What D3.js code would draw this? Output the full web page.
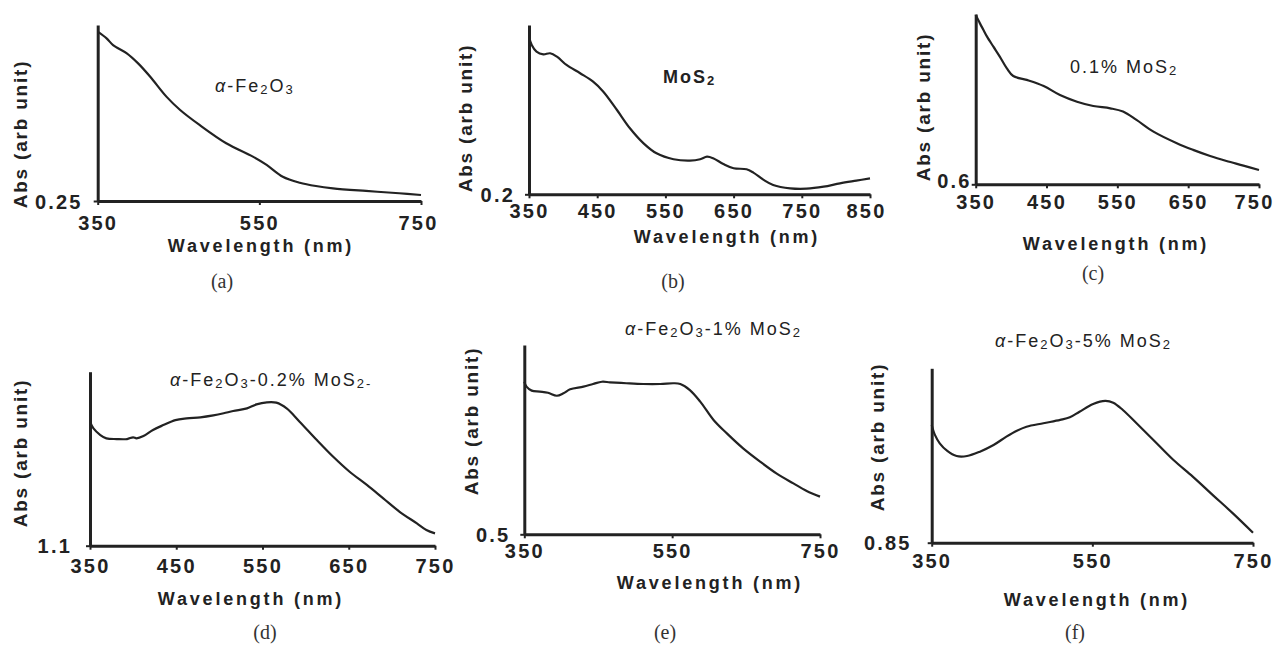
<!DOCTYPE html>
<html>
<head>
<meta charset="utf-8">
<script src="https://cdn.jsdelivr.net/npm/d3@7"></script>
<style>
  body { margin: 0; background: #fff; }
  svg { display: block; }
</style>
</head>
<body>
<svg id="chart" width="1274" height="648"></svg>
<script>

// wavelength (nm) and absorbance (arb unit)
var waveA = [350, 361, 369, 386, 400, 415, 435, 452, 476, 509, 542, 559, 579, 600, 620, 641, 682, 723, 750];
var absA  = [1.212, 1.174, 1.136, 1.089, 1.032, 0.956, 0.843, 0.767, 0.682, 0.578, 0.502, 0.455, 0.388, 0.354, 0.335, 0.322, 0.307, 0.294, 0.284];

var waveB = [350, 354, 361, 371, 381, 391, 405, 425, 444, 459, 479, 498, 518, 537, 562, 586, 601, 611, 620, 635, 650, 669, 679, 694, 708, 733, 757, 782, 806, 830, 850];
var absB  = [1.131, 1.082, 1.043, 1.027, 1.033, 1.013, 0.964, 0.915, 0.865, 0.806, 0.698, 0.590, 0.501, 0.442, 0.407, 0.399, 0.407, 0.422, 0.413, 0.379, 0.354, 0.348, 0.328, 0.285, 0.255, 0.235, 0.233, 0.245, 0.265, 0.281, 0.294];

var waveC = [350, 356, 361, 366, 375, 384, 394, 403, 422, 446, 469, 493, 516, 540, 558, 577, 601, 634, 657, 681, 704, 728, 750];
var absC  = [1.594, 1.545, 1.506, 1.467, 1.408, 1.350, 1.281, 1.236, 1.213, 1.177, 1.124, 1.085, 1.060, 1.046, 1.027, 0.978, 0.909, 0.841, 0.802, 0.766, 0.737, 0.710, 0.684];

var waveD = [350, 354, 362, 369, 381, 393, 400, 404, 412, 423, 435, 449, 462, 478, 493, 505, 516, 532, 543, 555, 566, 578, 593, 613, 632, 651, 671, 690, 709, 729, 740, 750];
var absD  = [1.813, 1.774, 1.736, 1.717, 1.713, 1.713, 1.723, 1.717, 1.730, 1.765, 1.793, 1.822, 1.832, 1.838, 1.849, 1.861, 1.874, 1.889, 1.912, 1.924, 1.922, 1.889, 1.813, 1.707, 1.611, 1.525, 1.449, 1.372, 1.295, 1.228, 1.190, 1.171];

var waveE = [350, 353, 360, 371, 382, 394, 403, 412, 430, 443, 455, 466, 488, 511, 534, 552, 561, 574, 588, 606, 624, 646, 669, 691, 714, 732, 750];
var absE  = [1.306, 1.280, 1.259, 1.254, 1.248, 1.232, 1.245, 1.266, 1.280, 1.294, 1.306, 1.303, 1.298, 1.294, 1.294, 1.298, 1.294, 1.262, 1.201, 1.104, 1.033, 0.954, 0.884, 0.822, 0.769, 0.729, 0.699];

var waveF = [350, 354, 360, 369, 381, 394, 410, 427, 443, 456, 468, 489, 510, 522, 534, 551, 566, 576, 588, 605, 626, 651, 675, 700, 725, 750];
var absF  = [1.525, 1.468, 1.420, 1.378, 1.347, 1.347, 1.372, 1.410, 1.458, 1.492, 1.515, 1.535, 1.554, 1.569, 1.601, 1.645, 1.663, 1.653, 1.611, 1.535, 1.439, 1.324, 1.229, 1.123, 1.018, 0.907];

// tick labels
var ticksA = [350, 550, 750];
var ticksB = [350, 450, 550, 650, 750, 850];
var ticksC = [350, 450, 550, 650, 750];
var ticksD = [350, 450, 550, 650, 750];
var ticksE = [350, 550, 750];
var ticksF = [350, 550, 750];

var yMinA = 0.25, yMinB = 0.2, yMinC = 0.6, yMinD = 1.1, yMinE = 0.5, yMinF = 0.85;

// titles: [text, kind]  i = italic, s = subscript
var titleA = [["α", "i"], ["-Fe", ""], ["2", "s"], ["O", ""], ["3", "s"]];
var titleB = [["MoS", ""], ["2", "s"]];
var titleC = [["0.1% MoS", ""], ["2", "s"]];
var titleD = [["α", "i"], ["-Fe", ""], ["2", "s"], ["O", ""], ["3", "s"], ["-0.2% MoS", ""], ["2", "s"], ["-", "s"]];
var titleE = [["α", "i"], ["-Fe", ""], ["2", "s"], ["O", ""], ["3", "s"], ["-1% MoS", ""], ["2", "s"]];
var titleF = [["α", "i"], ["-Fe", ""], ["2", "s"], ["O", ""], ["3", "s"], ["-5% MoS", ""], ["2", "s"]];

var letters = ["(a)", "(b)", "(c)", "(d)", "(e)", "(f)"];

// layout of each panel (pixels)
var panels = [
  {w: waveA, v: absA, ticks: ticksA, ymin: yMinA, title: titleA, xmax: 750,
   x0: 97.7, x1: 421, yb: 201, yt: 25, ylab: [20, 134], yminDx: 15, yminDy: 0, tickDy: 29,
   wl: [261, 251.5], tt: [215, 92], bold: false, let: [222, 288], lastDx: -3},
  {w: waveB, v: absB, ticks: ticksB, ymin: yMinB, title: titleB, xmax: 850,
   x0: 529, x1: 870, yb: 194.3, yt: 25, ylab: [465, 118], yminDx: 14, yminDy: 0, tickDy: 24,
   wl: [727, 243], tt: [663, 83], bold: true, let: [673, 288], lastDx: -4},
  {w: waveC, v: absC, ticks: ticksC, ymin: yMinC, title: titleC, xmax: 750,
   x0: 975.7, x1: 1259, yb: 184.3, yt: 14, ylab: [923, 107], yminDx: 4, yminDy: -4, tickDy: 25,
   wl: [1116, 250], tt: [1070, 73], bold: false, let: [1093, 280], lastDx: -5},
  {w: waveD, v: absD, ticks: ticksD, ymin: yMinD, title: titleD, xmax: 750,
   x0: 90, x1: 435, yb: 545.7, yt: 371.7, ylab: [20, 453], yminDx: 18, yminDy: 0, tickDy: 27,
   wl: [251, 605], tt: [170, 386], bold: false, let: [265, 639], lastDx: 0},
  {w: waveE, v: absE, ticks: ticksE, ymin: yMinE, title: titleE, xmax: 750,
   x0: 524.3, x1: 820, yb: 534.3, yt: 345, ylab: [471.7, 421], yminDx: 14, yminDy: 0, tickDy: 24,
   wl: [710, 589], tt: [625, 335], bold: false, let: [665, 639], lastDx: 0},
  {w: waveF, v: absF, ticks: ticksF, ymin: yMinF, title: titleF, xmax: 750,
   x0: 931.7, x1: 1253, yb: 542.7, yt: 368.3, ylab: [877, 437], yminDx: 20, yminDy: 0, tickDy: 25,
   wl: [1097, 606], tt: [995, 347], bold: false, let: [1075, 639], lastDx: 0}
];

var svg = d3.select("#chart");
var sans = "'Liberation Sans', Arial, sans-serif";
var ink = "#222";

panels.forEach(function(p, k) {

  var x = d3.scaleLinear().domain([350, p.xmax]).range([p.x0, p.x1]);
  var y = d3.scaleLinear().domain([p.ymin, p.ymin + 1]).range([p.yb, p.yt]);

  var g = svg.append("g");

  // curve
  var pts = p.w.map(function(d, i) { return [d, p.v[i]]; });
  var line = d3.line()
    .x(function(d) { return x(d[0]); })
    .y(function(d) { return y(d[1]); })
    .curve(d3.curveCatmullRom.alpha(0.5));

  g.append("path")
    .datum(pts)
    .attr("d", line)
    .attr("fill", "none")
    .attr("stroke", ink)
    .attr("stroke-width", 2.2)
    .attr("stroke-linejoin", "round");

  // x axis
  var xa = g.append("g")
    .attr("transform", "translate(0," + p.yb + ")")
    .call(d3.axisBottom(x).tickValues(p.ticks).tickSize(4).tickSizeOuter(0).tickFormat(d3.format("d")));
  xa.select(".domain").attr("stroke", ink).attr("stroke-width", 3);
  xa.selectAll(".tick line").attr("stroke", ink).attr("stroke-width", 2);
  xa.selectAll(".tick text")
    .attr("y", p.tickDy).attr("dy", 0)
    .attr("x", function(d, i, n) { return i === n.length - 1 ? p.lastDx : 0; })
    .attr("fill", ink)
    .style("font-family", sans).style("font-size", "20px").style("font-weight", "bold")
    .style("letter-spacing", "2.2px");

  // y axis
  var ya = g.append("g")
    .attr("transform", "translate(" + p.x0 + ",0)")
    .call(d3.axisLeft(y).tickValues([p.ymin]).tickSize(4).tickSizeOuter(0).tickFormat(function(d) { return String(d); }));
  ya.select(".domain").attr("stroke", ink).attr("stroke-width", 3);
  ya.selectAll(".tick line").attr("stroke", ink).attr("stroke-width", 2);
  ya.selectAll(".tick text")
    .attr("x", -p.yminDx).attr("y", p.yminDy).attr("dy", "0.35em")
    .attr("fill", ink)
    .style("font-family", sans).style("font-size", "20px").style("font-weight", "bold")
    .style("letter-spacing", "2.2px");

  // axis titles
  g.append("text")
    .attr("transform", "translate(" + p.ylab[0] + "," + p.ylab[1] + ") rotate(-90)")
    .attr("text-anchor", "middle")
    .attr("dy", "0.35em")
    .attr("fill", ink)
    .style("font-family", sans).style("font-size", "19px").style("font-weight", "bold")
    .style("letter-spacing", "1.8px")
    .text("Abs (arb unit)");

  g.append("text")
    .attr("x", p.wl[0]).attr("y", p.wl[1])
    .attr("text-anchor", "middle")
    .attr("fill", ink)
    .style("font-family", sans).style("font-size", "18px").style("font-weight", "bold")
    .style("letter-spacing", "2.8px")
    .text("Wavelength (nm)");

  // panel title, subscripts dropped a little below the baseline
  var t = g.append("text")
    .attr("x", p.tt[0]).attr("y", p.tt[1])
    .attr("fill", ink)
    .style("font-family", sans).style("font-size", "18px")
    .style("font-weight", p.bold ? "bold" : "normal")
    .style("letter-spacing", "2px");
  var shift = 0;
  p.title.forEach(function(part) {
    var s = t.append("tspan").text(part[0]);
    var want = part[1] === "s" ? 2 : 0;
    s.attr("dy", want - shift);
    shift = want;
    if (part[1] === "i") s.style("font-style", "italic");
    if (part[1] === "s") s.style("font-size", "13px");
  });

  // panel letter
  g.append("text")
    .attr("x", p.let[0]).attr("y", p.let[1])
    .attr("text-anchor", "middle")
    .attr("fill", "#333")
    .style("font-family", "'Liberation Serif', 'DejaVu Serif', serif")
    .style("font-size", "20px")
    .text(letters[k]);
});

</script>
</body>
</html>
